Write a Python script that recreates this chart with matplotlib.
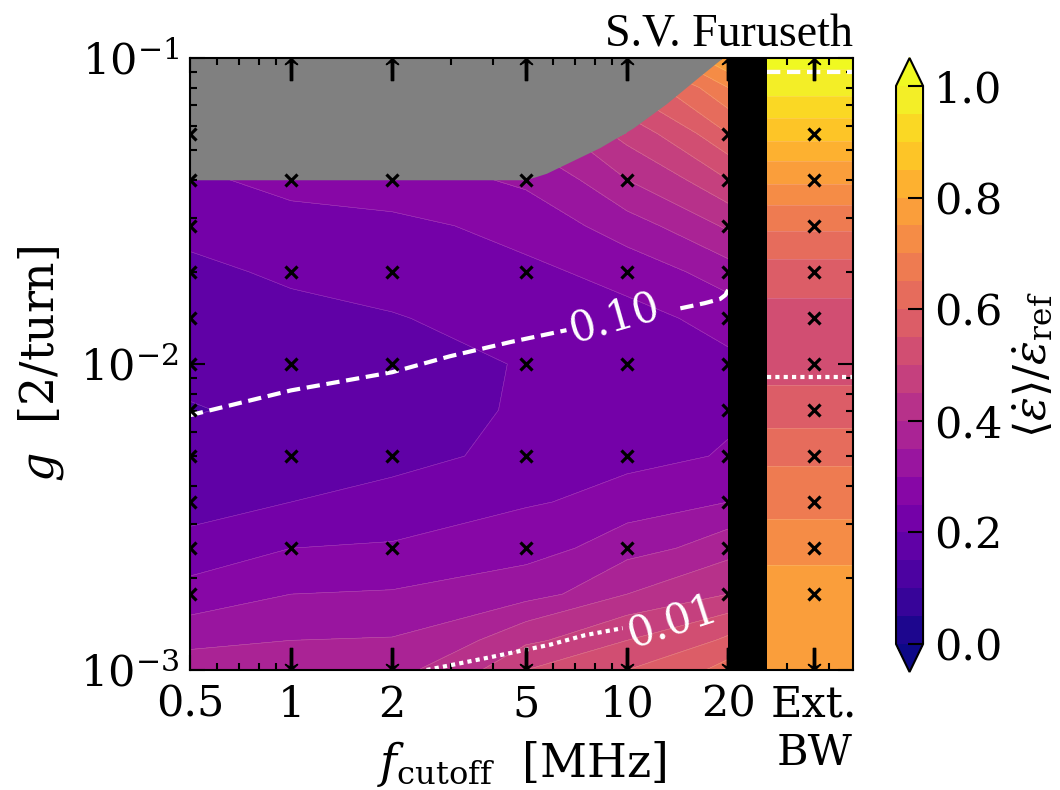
import numpy as np
import matplotlib
matplotlib.use("Agg")
import matplotlib.pyplot as plt
from matplotlib.ticker import FixedLocator, NullFormatter, LogLocator
from matplotlib.transforms import ScaledTranslation

plt.rcParams['font.family'] = ['DejaVu Serif']
plt.rcParams['mathtext.fontset'] = 'dejavuserif'

nan = np.nan

# --------------------------------------------------------------------------- #
# Data
# --------------------------------------------------------------------------- #
f_cut = [0.5, 1, 2, 5, 10, 20]                       # MHz
g_rows = [0.1, 0.08, 0.0566, 0.04, 0.0283, 0.02, 0.0141, 0.01,
          0.00707, 0.005, 0.00354, 0.0025, 0.00177, 0.00125, 0.001]

# <eps_dot>/eps_dot_ref, rows = g_rows, cols = f_cut (nan = unstable)
eps_main = [
    [nan,   nan,   nan,   nan,   nan,  0.80],
    [nan,   nan,   nan,   nan,   0.56, 0.70],
    [nan,   nan,   nan,   nan,   0.47, 0.60],
    [0.245, 0.261, 0.28,  0.31,  0.40, 0.50],
    [0.215, 0.239, 0.239, 0.27,  0.33, 0.41],
    [0.19,  0.21,  0.215, 0.24,  0.27, 0.33],
    [0.17,  0.185, 0.198, 0.22,  0.235, 0.27],
    [0.16,  0.17,  0.18,  0.205, 0.22, 0.24],
    [0.148, 0.16,  0.175, 0.21,  0.22, 0.24],
    [0.16,  0.165, 0.185, 0.22,  0.235, 0.255],
    [0.18,  0.20,  0.215, 0.245, 0.27, 0.30],
    [0.215, 0.25,  0.255, 0.28,  0.33, 0.38],
    [0.269, 0.30,  0.304, 0.33,  0.40, 0.45],
    [0.331, 0.35,  0.353, 0.44,  0.50, 0.56],
    [0.388, 0.38,  0.385, 0.50,  0.55, 0.62],
]

# extended-bandwidth column, one value per g row
eps_ext = [1.02, 0.97, 0.87, 0.76, 0.66, 0.58, 0.53, 0.53,
           0.57, 0.64, 0.68, 0.73, 0.78, 0.79, 0.79]

# unstable region (gray) lower boundary
gray_f = [0.5, 5.0, 5.75, 8.3, 10.4, 13.1, 16.4, 19.2, 20]
gray_g = [0.04, 0.04, 0.042, 0.051, 0.059, 0.071, 0.087, 0.1, 0.1]

# white iso-lines of the second quantity (0.10 dashed, 0.01 dotted)
line10_a_f = [0.5, 1, 2, 2.97, 4.5, 6.6]
line10_a_g = [0.0068, 0.0082, 0.0094, 0.0106, 0.0118, 0.0129]
line10_b_f = [14.4, 17.0, 18.9, 19.6, 20]
line10_b_g = [0.0152, 0.0158, 0.0163, 0.0168, 0.0175]
line01_f = [2.53, 3.9, 5.9, 7.5, 9.7]
line01_g = [0.001, 0.0011, 0.00121, 0.0013, 0.00137]
ext_g10, ext_g01 = 0.090, 0.0091

# scan points
g_dense = [0.0566, 0.04, 0.0283, 0.02, 0.0141, 0.01, 0.00707, 0.005,
           0.00354, 0.0025, 0.00177]
g_coarse = [0.04, 0.02, 0.01, 0.005, 0.0025]
f_arrow = [1, 2, 5, 10, 20]

# layout of the extra column on the f axis
bar_f = (20, 26)
ext_f = (26, 47)
ext_pos = 36

xticks = [0.5, 1, 2, 5, 10, 20, ext_pos]
xticklabels = ['0.5', '1', '2', '5', '10', '20', 'Ext.\nBW']

# --------------------------------------------------------------------------- #
fig = plt.figure(figsize=(10.6, 7.9), dpi=100)
ax = fig.add_axes([0.1792, 0.1519, 0.6255, 0.7747])
cax = fig.add_axes([0.8453, 0.1494, 0.0255, 0.7772])

levels = np.linspace(0, 1, 21)
ax.set_facecolor('gray')

X, Y = np.meshgrid(f_cut, g_rows)
Z = np.ma.masked_invalid(np.array(eps_main))
cs = ax.contourf(X, Y, Z, levels=levels, cmap='plasma', extend='both',
                 corner_mask=True, zorder=1)
ax.contour(X, Y, Z, levels=levels, colors='white', linewidths=0.4,
           alpha=0.25, zorder=1.2)

Xe, Ye = np.meshgrid(ext_f, g_rows)
Ze = np.repeat(np.array(eps_ext)[:, None], 2, axis=1)
ax.contourf(Xe, Ye, Ze, levels=levels, cmap='plasma', extend='both', zorder=1)
ax.contour(Xe, Ye, Ze, levels=levels, colors='white', linewidths=0.4,
           alpha=0.25, zorder=1.2)

ax.fill_between(gray_f, gray_g, max(g_rows), color='gray', lw=0, zorder=1.5)

# iso-lines
dash = (0, (3.2, 1.6))
dot = (0, (1, 1))
ax.plot(line10_a_f, line10_a_g, color='white', ls=dash, lw=3, zorder=2)
ax.plot(line10_b_f, line10_b_g, color='white', ls=dash, lw=3, zorder=2)
ax.plot(line01_f, line01_g, color='white', ls=dot, lw=3, zorder=2)
ax.hlines(ext_g10, *ext_f, color='white', ls=dash, lw=3, zorder=2)
ax.hlines(ext_g01, *ext_f, color='white', ls=dot, lw=3, zorder=2)
ax.text(9.16, 0.0141, '0.10', color='white', fontsize=30, rotation=16,
        ha='center', va='center', zorder=2)
ax.text(13.6, 0.00144, '0.01', color='white', fontsize=30, rotation=18,
        ha='center', va='center', zorder=2)

# scan markers
mk = dict(ls='none', marker='x', color='k', ms=9, mew=2.3, zorder=3)
for fx in (f_cut[0], f_cut[-1], ext_pos):
    ax.plot([fx] * len(g_dense), g_dense, **mk)
for fx in f_cut[1:-1]:
    ax.plot([fx] * len(g_coarse), g_coarse, **mk)

top_tr = ax.get_xaxis_transform() + ScaledTranslation(0, -8 / 72, fig.dpi_scale_trans)
bot_tr = ax.get_xaxis_transform() + ScaledTranslation(0, 8 / 72, fig.dpi_scale_trans)
fa = f_arrow + [ext_pos]
ax.plot(fa, np.ones(len(fa)), ls='none', marker=r'$\uparrow$', ms=16,
        color='k', transform=top_tr, zorder=3)
ax.plot(fa, np.zeros(len(fa)), ls='none', marker=r'$\downarrow$', ms=16,
        color='k', transform=bot_tr, zorder=3)

ax.axvspan(*bar_f, color='black', lw=0, zorder=4)

ax.set_xscale('log')
ax.set_yscale('log')
ax.set_xlim(f_cut[0], ext_f[1])
ax.set_ylim(min(g_rows), max(g_rows))
ax.xaxis.set_major_locator(FixedLocator(xticks))
ax.set_xticklabels(xticklabels)
ax.xaxis.set_minor_locator(LogLocator(subs=np.arange(2, 10)))
ax.xaxis.set_minor_formatter(NullFormatter())
ax.yaxis.set_minor_formatter(NullFormatter())
ax.tick_params(which='both', direction='in', top=True, right=True,
               labelsize=31, width=1.5)
ax.tick_params(which='major', length=11, pad=8)
ax.tick_params(axis='x', which='major', pad=10)
ax.tick_params(which='minor', length=5)
for s in ax.spines.values():
    s.set_linewidth(1.5)
    s.set_zorder(5)

ax.set_xlabel(r'$f_\mathrm{cutoff}$  [MHz]', fontsize=33)
ax.xaxis.set_label_coords(0.5, -0.112)
ax.set_ylabel(r'$g$  [2/turn]', fontsize=33, labelpad=10)
ax.set_title('S.V. Furuseth', loc='right', fontsize=33,
             family='Liberation Serif', pad=8)

cb = fig.colorbar(cs, cax=cax, ticks=np.linspace(0, 1, 6), format='%.1f')
cb.ax.tick_params(direction='in', length=11, width=1.5, labelsize=31, pad=8)
cb.outline.set_linewidth(1.5)
cb.set_label(r'$\langle\dot{\varepsilon}\rangle/\dot{\varepsilon}_\mathrm{ref}$',
             fontsize=32, labelpad=6)

fig.savefig('out.png', dpi=100)
